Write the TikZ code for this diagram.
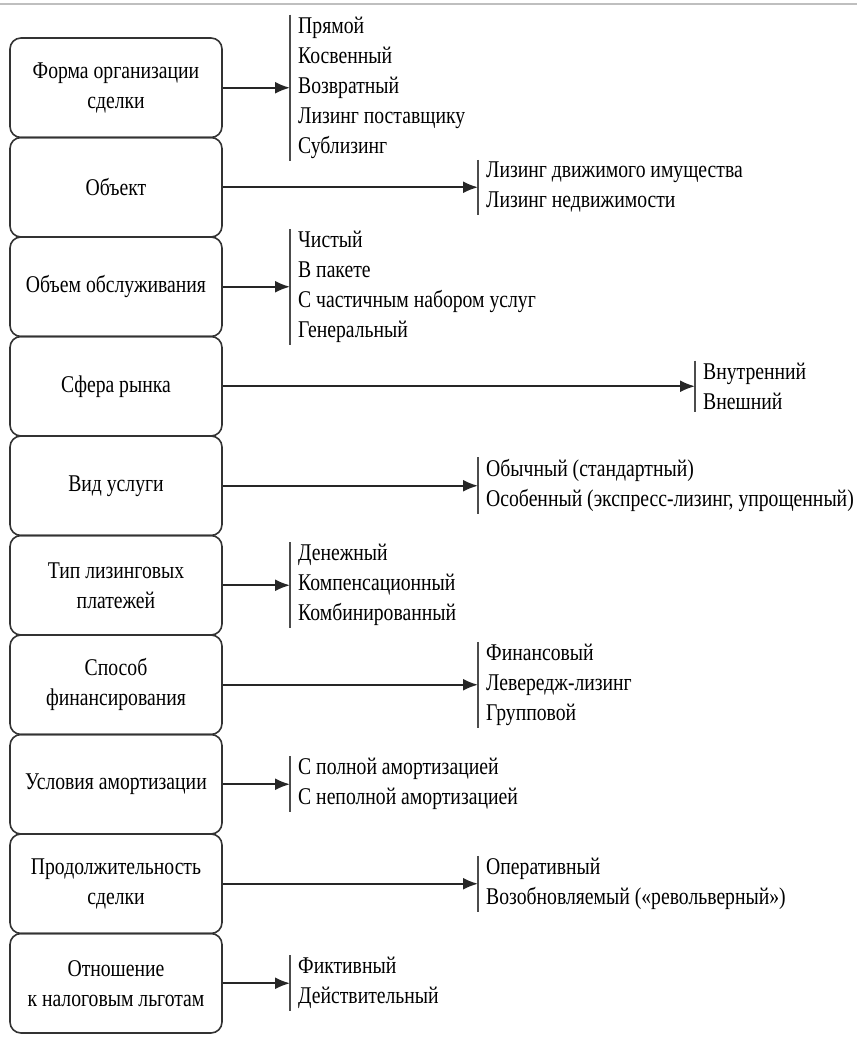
\documentclass[tikz,border=0pt]{standalone}
\usepackage{fontspec}
\setmainfont{Liberation Serif}[FakeStretch=0.82]
\usetikzlibrary{arrows.meta}

\begin{document}
\begin{tikzpicture}[x=1pt,y=-1pt,
  crit/.style={draw=black!80,line width=1.6pt,rounded corners=11pt,
    minimum width=212pt,minimum height=99.5pt,align=center,
    font=\fontsize{24}{30}\selectfont,inner sep=2pt},
  kinds/.style={anchor=west,align=left,inner xsep=8pt,inner ysep=2pt,
    font=\fontsize{24}{30}\selectfont},
  feed/.style={line width=1.9pt,draw=black!85,-{Latex[length=15pt,width=12pt]}},
  bar/.style={line width=1.5pt,draw=black!70}]

\useasboundingbox (0,0) rectangle (857,1037);
\draw[black!25,line width=1.5pt] (0,4) -- (857,4);

\def\near{290}
\def\mid{478}
\def\far{695}

% criteria
\node[crit] (b1) at (116,87.75) {Форма организации\\сделки};
\node[crit] (b2) at (116,187.25) {Объект};
\node[crit] (b3) at (116,286.75) {Объем обслуживания};
\node[crit] (b4) at (116,386.25) {Сфера рынка};
\node[crit] (b5) at (116,485.75) {Вид услуги};
\node[crit] (b6) at (116,585.25) {Тип лизинговых\\платежей};
\node[crit] (b7) at (116,684.75) {Способ\\финансирования};
\node[crit] (b8) at (116,784.25) {Условия амортизации};
\node[crit] (b9) at (116,883.75) {Продолжительность\\сделки};
\node[crit] (b10) at (116,983.25) {Отношение\\к налоговым льготам};

% kinds of leasing
\node[kinds] (l1) at (\near,87.75) {Прямой\\Косвенный\\Возвратный\\Лизинг поставщику\\Сублизинг};
\node[kinds] (l2) at (\mid,187.25) {Лизинг движимого имущества\\Лизинг недвижимости};
\node[kinds] (l3) at (\near,286.75) {Чистый\\В пакете\\С частичным набором услуг\\Генеральный};
\node[kinds] (l4) at (\far,386.25) {Внутренний\\Внешний};
\node[kinds] (l5) at (\mid,485.75) {Обычный (стандартный)\\Особенный (экспресс-лизинг, упрощенный)};
\node[kinds] (l6) at (\near,585.25) {Денежный\\Компенсационный\\Комбинированный};
\node[kinds] (l7) at (\mid,684.75) {Финансовый\\Левередж-лизинг\\Групповой};
\node[kinds] (l8) at (\near,784.25) {С полной амортизацией\\С неполной амортизацией};
\node[kinds] (l9) at (\mid,883.75) {Оперативный\\Возобновляемый («револьверный»)};
\node[kinds] (l10) at (\near,983.25) {Фиктивный\\Действительный};

\draw[bar] (l1.north west) -- (l1.south west);
\draw[bar] (l2.north west) -- (l2.south west);
\draw[bar] (l3.north west) -- (l3.south west);
\draw[bar] (l4.north west) -- (l4.south west);
\draw[bar] (l5.north west) -- (l5.south west);
\draw[bar] (l6.north west) -- (l6.south west);
\draw[bar] (l7.north west) -- (l7.south west);
\draw[bar] (l8.north west) -- (l8.south west);
\draw[bar] (l9.north west) -- (l9.south west);
\draw[bar] (l10.north west) -- (l10.south west);

\draw[feed] (b1.east) -- (b1.east -| l1.west);
\draw[feed] (b2.east) -- (b2.east -| l2.west);
\draw[feed] (b3.east) -- (b3.east -| l3.west);
\draw[feed] (b4.east) -- (b4.east -| l4.west);
\draw[feed] (b5.east) -- (b5.east -| l5.west);
\draw[feed] (b6.east) -- (b6.east -| l6.west);
\draw[feed] (b7.east) -- (b7.east -| l7.west);
\draw[feed] (b8.east) -- (b8.east -| l8.west);
\draw[feed] (b9.east) -- (b9.east -| l9.west);
\draw[feed] (b10.east) -- (b10.east -| l10.west);

\end{tikzpicture}
\end{document}
